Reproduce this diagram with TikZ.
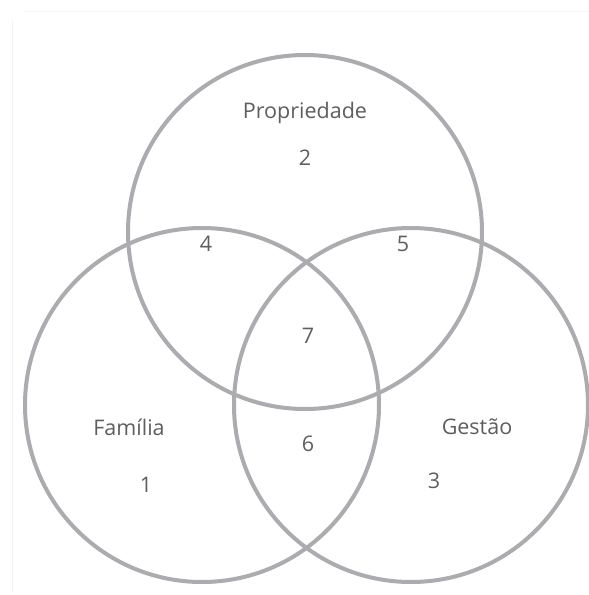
\documentclass[tikz,border=0pt]{standalone}
\usepackage{fontspec}
\setmainfont{Open Sans}
\definecolor{ring}{HTML}{ABABB0}
\definecolor{txt}{HTML}{5E5E5E}
\definecolor{frame}{HTML}{F4F4F4}
\begin{document}
\begin{tikzpicture}[x=1pt,y=-1pt,
  ringc/.style={draw=ring,line width=4pt},
  lbl/.style={text=txt,font=\fontsize{21.5}{25}\selectfont,inner sep=0pt}]
\useasboundingbox (0,0) rectangle (589,595);
\fill[white] (0,0) rectangle (589,595);
\draw[frame,line width=1pt] (24,11) -- (589,11);
\draw[frame,line width=1pt] (12.5,20) -- (12.5,593);
\node[circle,ringc,minimum size=354pt,inner sep=0pt] (top) at (305,232) {};
\node[circle,ringc,minimum size=354pt,inner sep=0pt] (left) at (202,405) {};
\node[circle,ringc,minimum size=354pt,inner sep=0pt] (right) at (411,405) {};
\node[lbl] (tp) at (305,113) {Propriedade};
\node[lbl] (n2) at (305,158) {2};
\node[lbl] (n4) at (206,244) {4};
\node[lbl] (n5) at (403,244) {5};
\node[lbl] (n7) at (308,336) {7};
\node[lbl] (fa) at (129,427) {Família};
\node[lbl] (n1) at (146,485) {1};
\node[lbl] (n6) at (308,444) {6};
\node[lbl] (ge) at (477,427) {Gestão};
\node[lbl] (n3) at (434,481) {3};
\end{tikzpicture}
\end{document}
